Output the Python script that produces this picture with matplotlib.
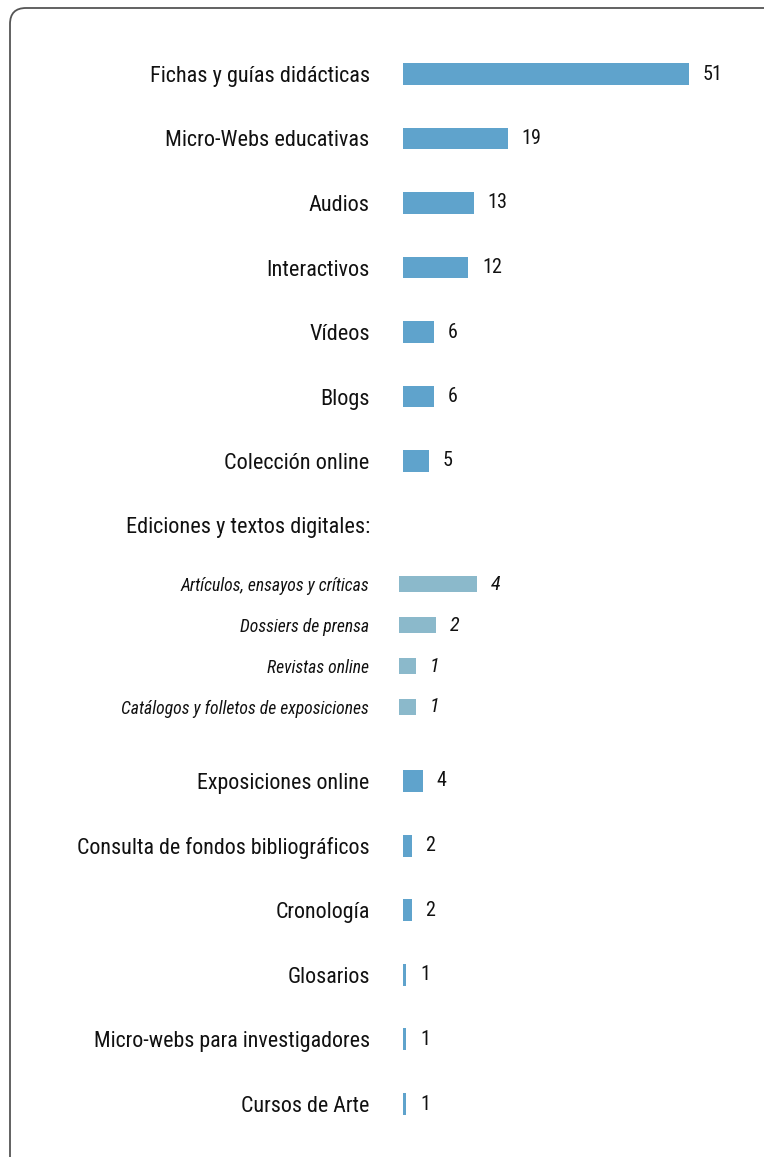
import matplotlib
matplotlib.use("Agg")
import matplotlib.pyplot as plt
from matplotlib.patches import FancyBboxPatch
from matplotlib.transforms import IdentityTransform

plt.rcParams["font.family"] = ["Roboto Condensed", "DejaVu Sans"]

top_labels = ["Fichas y guías didácticas", "Micro-Webs educativas", "Audios",
              "Interactivos", "Vídeos", "Blogs", "Colección online"]
top_values = [51, 19, 13, 12, 6, 6, 5]

group_title = "Ediciones y textos digitales:"
sub_labels = ["Artículos, ensayos y críticas", "Dossiers de prensa",
              "Revistas online", "Catálogos y folletos de exposiciones"]
sub_values = [4, 2, 1, 1]

bottom_labels = ["Exposiciones online", "Consulta de fondos bibliográficos",
                 "Cronología", "Glosarios", "Micro-webs para investigadores",
                 "Cursos de Arte"]
bottom_values = [4, 2, 2, 1, 1, 1]

W, H = 764, 1157
BAR = "#5fa3cc"
SUB_BAR = "#8bb9cb"
TXT = "#111111"

fig = plt.figure(figsize=(W / 100, H / 100), dpi=100)
fig.patch.set_facecolor("white")


def make_axes(left, right, top, bottom):
    # positions given in pixels from the top-left corner
    return fig.add_axes([left / W, 1 - bottom / H, (right - left) / W, (bottom - top) / H])


def bar_panel(ax, labels, values, xlim, color, height, label_size, val_size, pad, italic=False):
    n = len(labels)
    ys = list(range(n))
    style = "italic" if italic else "normal"
    ax.barh(ys, values, height=height, color=color, left=0)
    ax.set_xlim(*xlim)
    ax.set_ylim(n - 0.5, -0.5)
    ax.set_yticks(ys)
    ax.set_yticklabels(labels, fontsize=label_size, color=TXT, style=style)
    ax.tick_params(axis="y", length=0, pad=pad)
    ax.set_xticks([])
    for s in ax.spines.values():
        s.set_visible(False)
    ax.patch.set_alpha(0)
    for y, v in zip(ys, values):
        ax.annotate(str(v), (v, y), xytext=(10, 0), textcoords="offset points",
                    va="center", ha="left", fontsize=val_size, color=TXT, style=style)


# main groups share the same horizontal scale
ax_top = make_axes(403, 739, 41.75, 493.25)
bar_panel(ax_top, top_labels, top_values, (0.47, 59.83), BAR, 0.34, 16, 14.5, 24)

ax_bot = make_axes(403, 739, 748.7, 1136.3)
bar_panel(ax_bot, bottom_labels, bottom_values, (0.47, 59.83), BAR, 0.34, 15.8, 14.5, 24)

# sub-items of the digital editions group use their own scale
ax_sub = make_axes(399, 602, 563.5, 727.5)
bar_panel(ax_sub, sub_labels, sub_values, (0.16, 10.16), SUB_BAR, 0.41, 12.7, 14.5, 21.5,
          italic=True)

fig.text(370 / W, 1 - 527 / H, group_title, ha="right", va="center",
         fontsize=16, color=TXT)

# rounded frame running off the right and bottom edges
frame = FancyBboxPatch((10, -60), 820, (H - 8) + 60,
                       boxstyle="round,pad=0,rounding_size=16",
                       transform=IdentityTransform(), facecolor="none",
                       edgecolor="#555555", linewidth=1.3)
fig.patches.append(frame)

fig.savefig("out.png", dpi=100, facecolor="white")
